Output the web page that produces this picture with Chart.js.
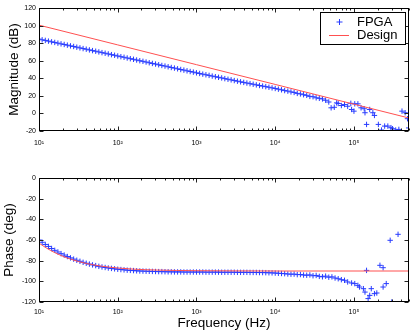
<!DOCTYPE html>
<html>
<head>
<meta charset="utf-8">
<script src="https://cdn.jsdelivr.net/npm/chart.js@4/dist/chart.umd.min.js"></script>
<style>
  html, body { margin: 0; padding: 0; background: #fff; }
  #wrap { position: relative; width: 415px; height: 331px; }
  canvas { position: absolute; left: 0; }
</style>
</head>
<body>
<div id="wrap">
  <canvas id="mag" width="415" height="152" style="top:0"></canvas>
  <canvas id="phase" width="415" height="179" style="top:152px"></canvas>
</div>
<script>
// FPGA measurement, smooth part (log10 of frequency in Hz)
const fpgaLogF = [
  1.00, 1.04, 1.08, 1.12, 1.16, 1.20, 1.24, 1.28, 1.32, 1.36,
  1.40, 1.44, 1.48, 1.52, 1.56, 1.60, 1.64, 1.68, 1.72, 1.76,
  1.80, 1.84, 1.88, 1.92, 1.96, 2.00, 2.04, 2.08, 2.12, 2.16,
  2.20, 2.24, 2.28, 2.32, 2.36, 2.40, 2.44, 2.48, 2.52, 2.56,
  2.60, 2.64, 2.68, 2.72, 2.76, 2.80, 2.84, 2.88, 2.92, 2.96,
  3.00, 3.04, 3.08, 3.12, 3.16, 3.20, 3.24, 3.28, 3.32, 3.36,
  3.40, 3.44, 3.48, 3.52, 3.56, 3.60, 3.64, 3.68, 3.72, 3.76,
  3.80, 3.84, 3.88, 3.92, 3.96, 4.00, 4.04, 4.08, 4.12, 4.16,
  4.20, 4.24, 4.28, 4.32, 4.36, 4.40, 4.44, 4.48, 4.52, 4.56
];
const fpgaMag = [
  84.6, 83.8, 83.1, 82.3, 81.5, 80.8, 80.0, 79.2, 78.5, 77.7,
  76.9, 76.2, 75.4, 74.6, 73.8, 73.1, 72.3, 71.5, 70.8, 70.0,
  69.2, 68.5, 67.7, 66.9, 66.2, 65.4, 64.6, 63.9, 63.1, 62.3,
  61.6, 60.8, 60.0, 59.3, 58.5, 57.7, 56.9, 56.2, 55.4, 54.6,
  53.9, 53.1, 52.3, 51.6, 50.8, 50.0, 49.3, 48.5, 47.7, 47.0,
  46.2, 45.5, 44.7, 44.0, 43.3, 42.5, 41.8, 41.1, 40.4, 39.6,
  38.9, 38.2, 37.4, 36.7, 36.0, 35.3, 34.6, 33.9, 33.2, 32.5,
  31.8, 31.1, 30.5, 29.8, 29.1, 28.4, 27.6, 26.9, 26.0, 25.4,
  24.5, 23.9, 22.8, 22.2, 21.3, 20.6, 19.4, 19.0, 17.8, 17.2
];
const fpgaPhase = [
  -60.0, -62.2, -64.3, -66.2, -68.2, -70.0, -71.6, -73.2, -74.6, -76.0,
  -77.3, -78.5, -79.6, -80.6, -81.6, -82.5, -83.3, -84.1, -84.8, -85.5,
  -86.1, -86.6, -87.1, -87.5, -87.9, -88.3, -88.6, -88.9, -89.2, -89.4,
  -89.6, -89.8, -90.0, -90.1, -90.2, -90.3, -90.4, -90.5, -90.6, -90.6,
  -90.7, -90.8, -90.8, -90.9, -90.9, -90.9, -91.0, -91.0, -91.0, -91.0,
  -91.0, -91.0, -91.0, -91.1, -91.1, -91.1, -91.1, -91.1, -91.2, -91.2,
  -91.2, -91.2, -91.2, -91.3, -91.3, -91.3, -91.3, -91.4, -91.4, -91.4,
  -91.5, -91.5, -91.6, -91.7, -91.8, -92.0, -92.2, -92.4, -92.6, -92.9,
  -93.1, -93.0, -93.5, -93.4, -93.9, -94.1, -93.8, -94.6, -94.3, -95.2
];

// FPGA, noisy high frequency part
const hfMagLogF = [
  4.60, 4.64, 4.68, 4.71, 4.75, 4.78, 4.80, 4.84, 4.88, 4.92,
  4.96, 4.97, 5.00, 5.01, 5.05, 5.09, 5.13, 5.14, 5.16, 5.20,
  5.24, 5.26, 5.31, 5.35, 5.39, 5.43, 5.47, 5.49, 5.53, 5.57,
  5.61, 5.65, 5.68, 5.695
];
const hfMag = [
  16.5, 15.0, 13.0, 6.4, 7.0, 12.0, 11.3, 9.0, 10.1, 8.2,
  11.5, 4.5, 2.6, 10.9, 10.9, 6.4, 5.3, 0.8, -12.5, 4.5,
  0.8, -2.3, -12.5, -18.9, -14.4, -14.4, -16.2, -17.4, -18.9, -18.2,
  2.6, 0.8, -6.0, -16.5
];
const hfPhaseLogF = [
  4.60, 4.64, 4.68, 4.72, 4.76, 4.80, 4.84, 4.88, 4.92, 4.97,
  5.01, 5.05, 5.07, 5.12, 5.14, 5.16, 5.18, 5.20, 5.22, 5.26,
  5.29, 5.33, 5.37, 5.37, 5.41, 5.46, 5.48, 5.56
];
const hfPhase = [
  -95.6, -95.0, -96.0, -95.7, -96.8, -97.5, -98.4, -99.0, -100.6, -101.6,
  -102.2, -103.9, -105.5, -107.1, -110.4, -89.4, -116.7, -113.6, -107.1, -111.9,
  -111.3, -84.5, -86.8, -105.5, -102.2, -60.3, -120.0, -54.5
];

// Design response
const designMagLogF = [1.0, 2.0, 3.0, 4.0, 5.0, 5.7];
const designMag = [100.5, 78.0, 55.5, 33.0, 10.5, -5.25];
const designPhaseLogF = [1.0, 1.1, 1.2, 1.3, 1.4, 1.5, 1.6, 1.7, 1.8, 1.9, 2.0, 2.2, 2.5, 3.0, 3.5, 4.0, 5.7];
const designPhase = [-63.0, -68.0, -72.2, -75.7, -78.5, -80.8, -82.7, -84.2, -85.4, -86.3, -87.1, -88.2, -89.1, -89.7, -89.9, -90.0, -90.0];

// axes
const decadeTicks = [10, 100, 1000, 10000, 100000];
const decadeLabels = ['10\u00b9', '10\u00b2', '10\u00b3', '10\u2074', '10\u2075'];
const magTicks = [120, 100, 80, 60, 40, 20, 0, -20];
const phaseTicks = [0, -20, -40, -60, -80, -100, -120];

const FONT = 'Liberation Sans, Arial, Helvetica, sans-serif';
const BLUE = 'rgb(40,60,255)';
const RED = 'rgb(255,80,80)';

function pts(logF, vals) {
  return logF.map((l, i) => ({ x: Math.pow(10, l), y: vals[i] }));
}

// box + inward ticks like matlab
const framePlugin = {
  id: 'frame',
  afterDraw(chart) {
    const { ctx, chartArea: a, scales } = chart;
    const L = Math.round(a.left) + 0.5, R = Math.round(a.right) - 0.5;
    const T = Math.round(a.top) + 0.5, B = Math.round(a.bottom) - 0.5;
    ctx.save();
    ctx.strokeStyle = '#222';
    ctx.lineWidth = 1;
    ctx.beginPath();
    for (let d = 1; d <= 5; d++) {
      for (let k = 1; k <= 9; k++) {
        const v = k * Math.pow(10, d);
        if (v < 10 || v > 5e5) continue;
        const px = Math.round(scales.x.getPixelForValue(v)) + 0.5;
        const len = k === 1 ? 4 : 2;
        ctx.moveTo(px, B); ctx.lineTo(px, B - len);
        ctx.moveTo(px, T); ctx.lineTo(px, T + len);
      }
    }
    scales.y.ticks.forEach(t => {
      const py = Math.round(scales.y.getPixelForValue(t.value)) + 0.5;
      ctx.moveTo(L, py); ctx.lineTo(L + 4, py);
      ctx.moveTo(R, py); ctx.lineTo(R - 4, py);
    });
    ctx.stroke();
    ctx.strokeStyle = '#000';
    ctx.strokeRect(L, T, R - L, B - T);
    ctx.restore();
  }
};

const legendPlugin = {
  id: 'boxLegend',
  afterDraw(chart) {
    const ctx = chart.ctx;
    ctx.save();
    ctx.fillStyle = '#fff';
    ctx.fillRect(320, 12, 85, 32);
    ctx.strokeStyle = '#000';
    ctx.lineWidth = 1;
    ctx.strokeRect(320.5, 12.5, 85, 32);
    ctx.strokeStyle = BLUE;
    ctx.beginPath();
    ctx.moveTo(336.5, 22); ctx.lineTo(342.5, 22);
    ctx.moveTo(339.5, 19); ctx.lineTo(339.5, 25);
    ctx.stroke();
    ctx.strokeStyle = RED;
    ctx.beginPath();
    ctx.moveTo(329, 35.5); ctx.lineTo(349, 35.5);
    ctx.stroke();
    ctx.fillStyle = '#000';
    ctx.font = '13px ' + FONT;
    ctx.textBaseline = 'middle';
    ctx.fillText('FPGA', 357, 22);
    ctx.fillText('Design', 357, 35);
    ctx.restore();
  }
};

function makeOptions(opts) {
  return {
    responsive: false,
    animation: false,
    layout: { padding: { top: opts.padTop, right: 6, left: 0, bottom: 0 } },
    plugins: { legend: { display: false }, tooltip: { enabled: false } },
    scales: {
      x: {
        type: 'logarithmic',
        min: 10,
        max: 5e5,
        grid: { display: false, drawTicks: false },
        border: { display: false },
        afterBuildTicks: s => { s.ticks = decadeTicks.map(v => ({ value: v })); },
        afterFit: s => { s.height = opts.xHeight; },
        ticks: {
          autoSkip: false,
          maxRotation: 0,
          padding: opts.xPad,
          color: '#000',
          font: { family: FONT, size: 7 },
          callback: v => {
            const i = decadeTicks.indexOf(v);
            return i >= 0 ? decadeLabels[i] : '';
          }
        },
        title: {
          display: !!opts.xTitle,
          text: opts.xTitle || '',
          color: '#000',
          font: { family: FONT, size: 13.5 },
          padding: { top: 0, bottom: 0 }
        }
      },
      y: {
        type: 'linear',
        min: opts.yMin,
        max: opts.yMax,
        grid: { display: false, drawTicks: false },
        border: { display: false },
        afterBuildTicks: s => { s.ticks = opts.yTicks.map(v => ({ value: v })); },
        afterFit: s => { s.width = 39; },
        ticks: {
          padding: 3,
          color: '#000',
          font: { family: FONT, size: 7 }
        },
        title: {
          display: true,
          text: opts.yTitle,
          color: '#000',
          font: { family: FONT, size: 13.5 },
          padding: { top: opts.titlePad, bottom: 0 }
        }
      }
    }
  };
}

function fpgaSet(data) {
  return {
    type: 'scatter',
    data: data,
    order: 1,
    showLine: false,
    pointStyle: 'cross',
    pointRadius: 2.7,
    pointBorderWidth: 1,
    borderColor: BLUE,
    backgroundColor: BLUE
  };
}

function designSet(data) {
  return {
    type: 'line',
    data: data,
    order: 0,
    borderColor: RED,
    borderWidth: 1,
    pointRadius: 0,
    cubicInterpolationMode: 'monotone',
    fill: false
  };
}

new Chart(document.getElementById('mag'), {
  type: 'scatter',
  data: {
    datasets: [
      designSet(pts(designMagLogF, designMag)),
      fpgaSet(pts(fpgaLogF, fpgaMag).concat(pts(hfMagLogF, hfMag)))
    ]
  },
  options: makeOptions({
    padTop: 8, xHeight: 21, xPad: 8,
    yMin: -20, yMax: 120, yTicks: magTicks,
    yTitle: 'Magnitude (dB)', titlePad: 6.5
  }),
  plugins: [framePlugin, legendPlugin]
});

new Chart(document.getElementById('phase'), {
  type: 'scatter',
  data: {
    datasets: [
      designSet(pts(designPhaseLogF, designPhase)),
      fpgaSet(pts(fpgaLogF, fpgaPhase).concat(pts(hfPhaseLogF, hfPhase)))
    ]
  },
  options: makeOptions({
    padTop: 26, xHeight: 29, xPad: 6, xTitle: 'Frequency (Hz)',
    yMin: -120, yMax: 0, yTicks: phaseTicks,
    yTitle: 'Phase (deg)', titlePad: 1.5
  }),
  plugins: [framePlugin]
});
</script>
</body>
</html>
